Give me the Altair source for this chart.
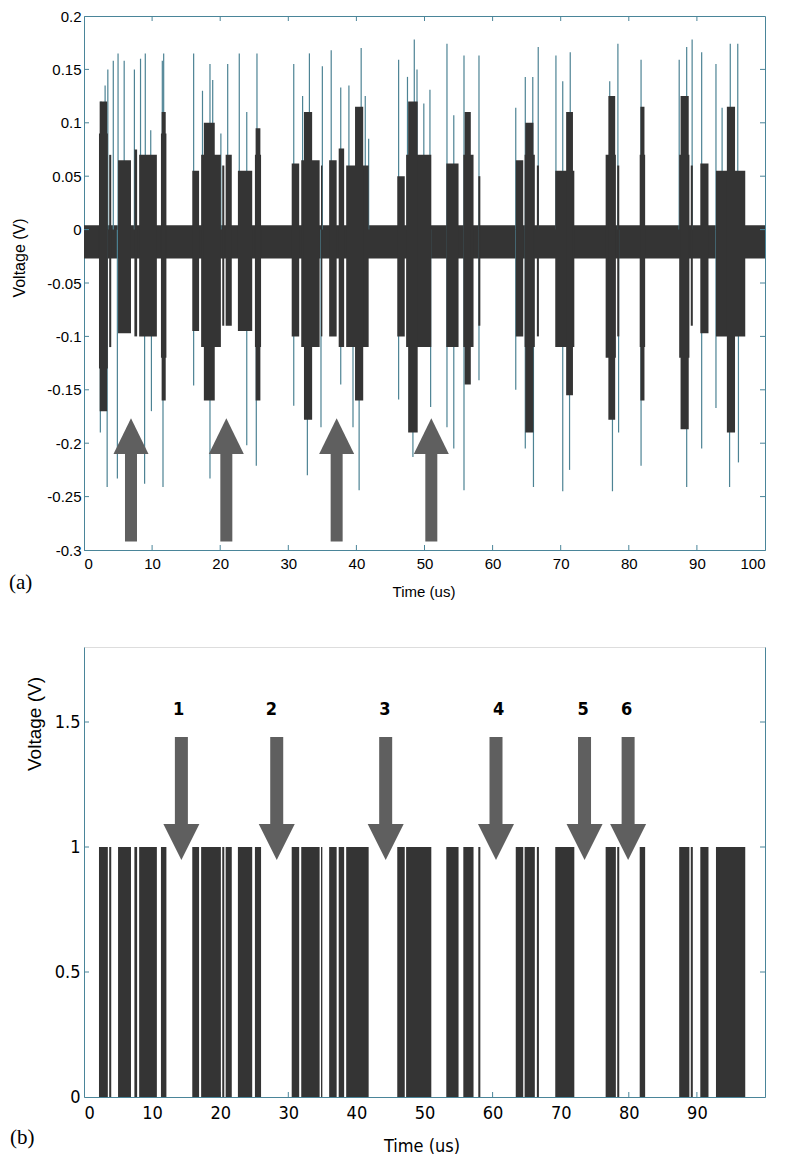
import altair as alt
import pandas as pd

# ---------------- data ----------------
# Panel (b): logic pulses (us) -- also the burst intervals of panel (a)
pulse_start = [2.2, 3.7, 5.0, 7.4, 8.1, 11.3, 15.9, 17.2, 20.3, 20.8, 22.6, 25.1,
               30.5, 31.9, 34.8, 36.0, 37.4, 38.5, 46.0, 47.3, 53.2, 55.7, 57.9,
               63.4, 64.7, 66.5, 69.2, 76.6, 78.3, 81.6, 87.4, 89.1, 90.5, 92.8]
pulse_end = [3.5, 4.0, 6.9, 7.8, 10.7, 12.1, 16.9, 20.1, 20.6, 21.7, 24.7, 26.0,
             31.6, 34.6, 35.0, 37.1, 38.2, 41.8, 47.1, 51.0, 55.0, 57.2, 58.2,
             64.5, 66.2, 66.8, 72.0, 78.1, 78.6, 82.4, 88.9, 89.4, 91.7, 97.1]
pulse_level = 1

# Panel (a): dense envelope of each burst (V)
burst_top = [0.09, 0.07, 0.065, 0.075, 0.07, 0.09, 0.055, 0.07, 0.06, 0.07, 0.055, 0.07,
             0.062, 0.065, 0.06, 0.065, 0.076, 0.06, 0.05, 0.07, 0.062, 0.07, 0.05,
             0.065, 0.07, 0.06, 0.055, 0.07, 0.06, 0.07, 0.07, 0.06, 0.062, 0.055]
burst_bot = [-0.13, -0.11, -0.097, -0.10, -0.10, -0.12, -0.095, -0.11, -0.09, -0.09, -0.095, -0.11,
             -0.10, -0.11, -0.10, -0.10, -0.11, -0.11, -0.10, -0.11, -0.11, -0.11, -0.09,
             -0.10, -0.11, -0.10, -0.11, -0.12, -0.10, -0.11, -0.12, -0.09, -0.097, -0.10]

# denser peaks inside bursts
peak_start = [2.3, 11.4, 17.6, 25.2, 32.3, 39.8, 47.6, 55.9, 64.8, 70.8, 77.0, 81.7, 87.6, 94.4]
peak_end = [3.4, 12.0, 19.2, 25.9, 33.5, 41.0, 49.0, 56.8, 66.0, 71.8, 78.0, 82.3, 88.8, 95.6]
peak_top = [0.12, 0.11, 0.10, 0.095, 0.11, 0.115, 0.12, 0.11, 0.10, 0.11, 0.125, 0.115, 0.125, 0.115]
peak_bot = [-0.17, -0.16, -0.16, -0.16, -0.178, -0.16, -0.19, -0.145, -0.19, -0.155, -0.178, -0.16, -0.187, -0.19]

# resting noise band
noise_band = [-0.027, 0.004]

# isolated positive spikes (time, peak V)
up_t = [2.5, 3.1, 3.5, 4.3, 5.0, 5.9, 7.4, 8.3, 9.0, 9.8, 11.5, 11.7, 16.1, 17.4, 18.5, 18.9,
        20.1, 21.1, 22.8, 23.9, 25.4, 30.8, 32.1, 33.1, 35.0, 36.3, 37.7, 38.9, 40.7, 41.3, 41.8,
        46.2, 47.5, 48.5, 48.9, 49.9, 50.8, 53.3, 54.3, 55.8, 58.0, 63.4, 64.8, 65.9, 66.7,
        69.3, 70.3, 71.4, 77.2, 78.4, 81.8, 87.4, 88.5, 89.3, 90.7, 92.8, 93.7, 94.9, 96.0]
up_v = [0.12, 0.135, 0.15, 0.158, 0.165, 0.158, 0.15, 0.16, 0.165, 0.093, 0.158, 0.165, 0.165, 0.13,
        0.155, 0.14, 0.09, 0.155, 0.165, 0.11, 0.165, 0.155, 0.125, 0.165, 0.153, 0.168, 0.133,
        0.135, 0.17, 0.125, 0.085, 0.159, 0.143, 0.178, 0.15, 0.118, 0.131, 0.174, 0.107, 0.163,
        0.163, 0.114, 0.143, 0.143, 0.171, 0.163, 0.139, 0.166, 0.139, 0.174, 0.159, 0.159, 0.171,
        0.178, 0.166, 0.155, 0.114, 0.174, 0.174]

# isolated negative spikes (time, peak V)
down_t = [2.4, 3.4, 4.9, 8.9, 9.9, 11.6, 16.1, 18.5, 23.9, 25.3, 30.8, 32.8, 34.8, 37.7, 39.5,
          40.4, 46.2, 47.8, 48.3, 50.9, 53.3, 54.3, 55.8, 58.0, 63.4, 64.8, 66.0, 70.3, 71.3,
          77.6, 78.5, 81.8, 88.5, 90.7, 92.8, 94.8, 96.1]
down_v = [-0.19, -0.241, -0.233, -0.238, -0.17, -0.241, -0.146, -0.233, -0.202, -0.221, -0.165,
          -0.23, -0.185, -0.145, -0.185, -0.244, -0.159, -0.188, -0.213, -0.166, -0.185, -0.205,
          -0.244, -0.141, -0.15, -0.205, -0.241, -0.245, -0.225, -0.245, -0.19, -0.221, -0.241,
          -0.205, -0.167, -0.241, -0.218]

# arrows
arrow_a_x = [6.9, 20.9, 37.1, 51.0]
arrow_a_tail, arrow_a_base = -0.292, -0.210
arrow_b_x = [14.3, 28.3, 44.3, 60.5, 73.5, 79.9]
arrow_b_tail, arrow_b_base = 1.44, 1.092
label_b_x = [13.9, 27.5, 44.2, 60.9, 73.3, 79.7]
label_b_text = ["1", "2", "3", "4", "5", "6"]
label_b_y = 1.548

# axes ticks
a_xticks = list(range(0, 101, 10))
a_yticks = [-0.3, -0.25, -0.2, -0.15, -0.1, -0.05, 0, 0.05, 0.1, 0.15, 0.2]
b_xticks = list(range(0, 91, 10))
b_yticks = [0, 0.5, 1, 1.5]

# ---------------- styling ----------------
W, HA, HB = 681, 534, 450
DARK = "#343434"
SPIKE = "#4d8394"
ARROW = "#5f5f5f"
AXIS = "#4a8599"
SANS = "Liberation Sans, Arial, sans-serif"
NARROW = "Liberation Sans Narrow, Arial Narrow, DejaVu Sans Condensed, Liberation Sans, sans-serif"
SERIF = "Liberation Serif, Times New Roman, serif"

xs = alt.Scale(domain=[0, 100], nice=False, zero=False)
ya = alt.Scale(domain=[-0.3, 0.2], nice=False, zero=False)
yb = alt.Scale(domain=[0, 1.8], nice=False, zero=False)

label_expr = "datum.value < 0 ? '-' + format(-datum.value, '~g') : format(datum.value, '~g')"

# ---------------- panel (a) ----------------
band_df = pd.DataFrame({"x0": [0], "x1": [100], "lo": [noise_band[0]], "hi": [noise_band[1]]})
burst_df = pd.DataFrame({"s": pulse_start, "e": pulse_end, "t": burst_top, "b": burst_bot})
peak_df = pd.DataFrame({"s": peak_start, "e": peak_end, "t": peak_top, "b": peak_bot})
up_df = pd.DataFrame({"t": up_t, "v": up_v})
down_df = pd.DataFrame({"t": down_t, "v": down_v})
arrow_a_df = pd.DataFrame({"x": arrow_a_x, "tail": [arrow_a_tail] * 4, "base": [arrow_a_base] * 4})
ax_tick_df = pd.DataFrame({"x": a_xticks[1:-1]})
ay_tick_df = pd.DataFrame({"y": a_yticks[1:-1]})

band = alt.Chart(band_df).mark_rect(color=DARK).encode(
    x=alt.X("x0:Q", scale=xs, axis=alt.Axis(values=a_xticks, ticks=False, title=None, grid=False,
                                             labelFont=SANS, labelFontSize=15, labelColor="black",
                                             labelPadding=6, domainColor=AXIS)),
    x2="x1:Q",
    y=alt.Y("lo:Q", scale=ya, axis=alt.Axis(values=a_yticks, ticks=False, title=None, grid=False,
                                             labelExpr=label_expr, labelFont=SANS, labelFontSize=15,
                                             labelColor="black", labelPadding=3, domainColor=AXIS)),
    y2="hi:Q",
)
spikes_up = alt.Chart(up_df).mark_rule(color=SPIKE, strokeWidth=1.2).encode(
    x=alt.X("t:Q", scale=xs, axis=None), y=alt.Y("v:Q", scale=ya, axis=None), y2=alt.datum(0))
spikes_dn = alt.Chart(down_df).mark_rule(color=SPIKE, strokeWidth=1.2).encode(
    x=alt.X("t:Q", scale=xs, axis=None), y=alt.Y("v:Q", scale=ya, axis=None), y2=alt.datum(0))
bursts = alt.Chart(burst_df).mark_rect(color=DARK).encode(
    x=alt.X("s:Q", scale=xs, axis=None), x2="e:Q",
    y=alt.Y("b:Q", scale=ya, axis=None), y2="t:Q")
peaks = alt.Chart(peak_df).mark_rect(color=DARK).encode(
    x=alt.X("s:Q", scale=xs, axis=None), x2="e:Q",
    y=alt.Y("b:Q", scale=ya, axis=None), y2="t:Q")
shaft_a = alt.Chart(arrow_a_df).mark_rule(color=ARROW, strokeWidth=12).encode(
    x=alt.X("x:Q", scale=xs, axis=None), y=alt.Y("tail:Q", scale=ya, axis=None), y2="base:Q")
head_a = alt.Chart(arrow_a_df).mark_point(shape="M-1,0L1,0L0,-2.04Z", filled=True, opacity=1,
                                          color=ARROW, size=1225, strokeWidth=0).encode(
    x=alt.X("x:Q", scale=xs, axis=None), y=alt.Y("base:Q", scale=ya, axis=None))
tick_style = dict(color=AXIS, strokeWidth=1)
tb = alt.Chart(ax_tick_df).mark_rule(**tick_style).encode(
    x=alt.X("x:Q", scale=xs, axis=None), y=alt.value(HA), y2=alt.value(HA - 5))
tt = alt.Chart(ax_tick_df).mark_rule(**tick_style).encode(
    x=alt.X("x:Q", scale=xs, axis=None), y=alt.value(0), y2=alt.value(5))
tl = alt.Chart(ay_tick_df).mark_rule(**tick_style).encode(
    y=alt.Y("y:Q", scale=ya, axis=None), x=alt.value(0), x2=alt.value(5))
tr = alt.Chart(ay_tick_df).mark_rule(**tick_style).encode(
    y=alt.Y("y:Q", scale=ya, axis=None), x=alt.value(W), x2=alt.value(W - 5))

txt_a = alt.Chart(pd.DataFrame({"t": ["(a)"]})).mark_text(
    font=SERIF, fontSize=21, align="left", baseline="middle", color="black").encode(
    text="t:N", x=alt.value(-75), y=alt.value(567))
ttl_a = alt.Chart(pd.DataFrame({"t": ["Voltage (V)"]})).mark_text(
    font=SANS, fontSize=16, align="center", baseline="middle", angle=270, color="black").encode(
    text="t:N", x=alt.value(-64), y=alt.value(242))
xt_a = alt.Chart(pd.DataFrame({"t": ["Time (us)"]})).mark_text(
    font=SANS, fontSize=15, align="center", baseline="middle", color="black").encode(
    text="t:N", x=alt.value(340), y=alt.value(576))

panel_a = alt.layer(band, spikes_up, spikes_dn, bursts, peaks, shaft_a, head_a,
                    tb, tt, tl, tr, txt_a, ttl_a, xt_a).resolve_axis(
    x="independent", y="independent").properties(
    width=W, height=HA, view=alt.ViewBackground(stroke=AXIS, strokeWidth=1))

# ---------------- panel (b) ----------------
pulse_df = pd.DataFrame({"s": pulse_start, "e": pulse_end,
                         "lo": [0] * len(pulse_start), "hi": [pulse_level] * len(pulse_start)})
arrow_b_df = pd.DataFrame({"x": arrow_b_x, "tail": [arrow_b_tail] * 6, "base": [arrow_b_base] * 6})
lab_b_df = pd.DataFrame({"x": label_b_x, "y": [label_b_y] * 6, "t": label_b_text})
bx_tick_df = pd.DataFrame({"x": b_xticks[1:]})
by_tick_df = pd.DataFrame({"y": b_yticks[1:]})

b_ticks_bottom = alt.Chart(bx_tick_df).mark_rule(**tick_style).encode(
    x=alt.X("x:Q", scale=xs, axis=alt.Axis(values=b_xticks, ticks=False, title=None, grid=False,
                                            labelFont=NARROW, labelFontSize=18, labelColor="black",
                                            labelPadding=7, domainColor=AXIS)),
    y=alt.value(HB), y2=alt.value(HB - 5))
b_ticks_left = alt.Chart(by_tick_df).mark_rule(**tick_style).encode(
    y=alt.Y("y:Q", scale=yb, axis=alt.Axis(values=b_yticks, ticks=False, title=None, grid=False,
                                            labelExpr=label_expr, labelFont=NARROW, labelFontSize=18,
                                            labelColor="black", labelPadding=4, domainColor=AXIS)),
    x=alt.value(0), x2=alt.value(5))
b_ticks_right = alt.Chart(by_tick_df).mark_rule(**tick_style).encode(
    y=alt.Y("y:Q", scale=yb, axis=alt.Axis(orient="right", labels=False, ticks=False, title=None,
                                            grid=False, domainColor=AXIS)),
    x=alt.value(W), x2=alt.value(W - 5))
pulses = alt.Chart(pulse_df).mark_rect(color=DARK).encode(
    x=alt.X("s:Q", scale=xs, axis=None), x2="e:Q",
    y=alt.Y("lo:Q", scale=yb, axis=None), y2="hi:Q")
shaft_b = alt.Chart(arrow_b_df).mark_rule(color=ARROW, strokeWidth=13).encode(
    x=alt.X("x:Q", scale=xs, axis=None), y=alt.Y("tail:Q", scale=yb, axis=None), y2="base:Q")
head_b = alt.Chart(arrow_b_df).mark_point(shape="M-1,0L1,0L0,2Z", filled=True, opacity=1,
                                          color=ARROW, size=1296, strokeWidth=0).encode(
    x=alt.X("x:Q", scale=xs, axis=None), y=alt.Y("base:Q", scale=yb, axis=None))
labels_b = alt.Chart(lab_b_df).mark_text(font=NARROW, fontSize=18, fontWeight="bold",
                                         align="center", baseline="middle", color="black").encode(
    x=alt.X("x:Q", scale=xs, axis=None), y=alt.Y("y:Q", scale=yb, axis=None), text="t:N")

txt_b = alt.Chart(pd.DataFrame({"t": ["(b)"]})).mark_text(
    font=SERIF, fontSize=21, align="left", baseline="middle", color="black").encode(
    text="t:N", x=alt.value(-74), y=alt.value(491))
ttl_b = alt.Chart(pd.DataFrame({"t": ["Voltage (V)"]})).mark_text(
    font=SANS, fontSize=19, align="center", baseline="middle", angle=270, color="black").encode(
    text="t:N", x=alt.value(-49), y=alt.value(77))
xt_b = alt.Chart(pd.DataFrame({"t": ["Time (us)"]})).mark_text(
    font=NARROW, fontSize=18, align="center", baseline="middle", color="black").encode(
    text="t:N", x=alt.value(338), y=alt.value(500))

panel_b = alt.layer(b_ticks_bottom, b_ticks_left, b_ticks_right, pulses, shaft_b, head_b,
                    labels_b, txt_b, ttl_b, xt_b).resolve_axis(
    x="independent", y="independent").properties(width=W, height=HB)

chart = alt.vconcat(panel_a, panel_b, spacing=45).properties(
    padding={"left": 0, "top": 0, "right": 5, "bottom": 0}
).configure_view(strokeWidth=0).configure(background="white")

chart.save("out.html", embed_options={"renderer": "svg", "actions": False})
